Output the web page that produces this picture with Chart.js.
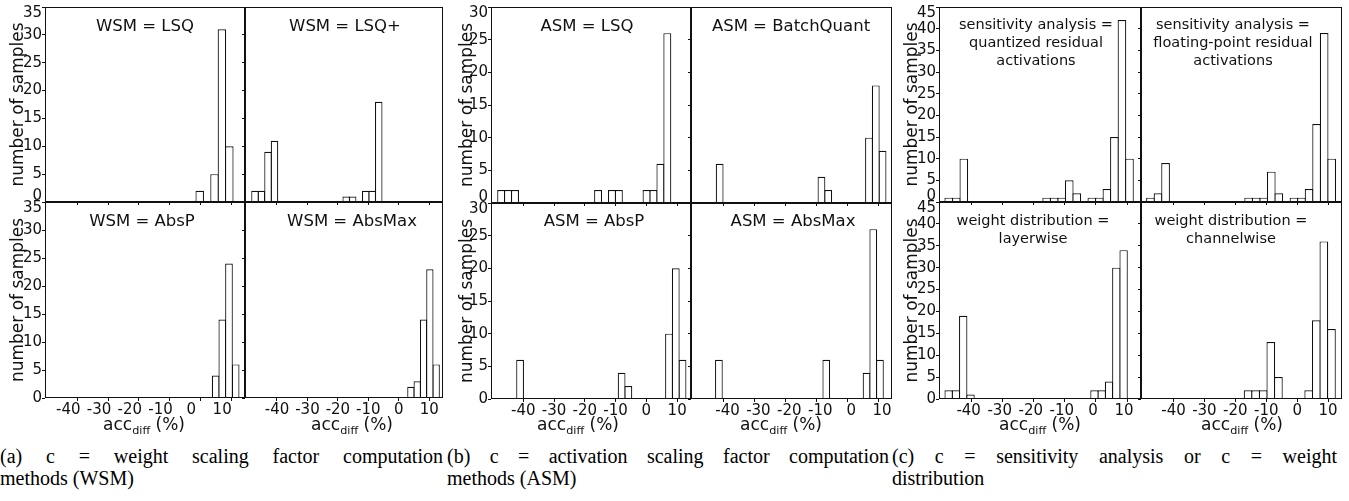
<!DOCTYPE html>
<html>
<head>
<meta charset="utf-8">
<script src="https://cdn.jsdelivr.net/npm/chart.js@4.4.1/dist/chart.umd.min.js"></script>
<style>
  body { margin: 0; background: #fff; width: 1349px; height: 501px; position: relative; overflow: hidden;
         font-family: "DejaVu Sans", Verdana, sans-serif; color: #111; }
  canvas { position: absolute; }
  .pt { position: absolute; transform: translateX(-50%); white-space: nowrap; text-align: center; }
  .pt.big { font-size: 16.5px; line-height: 20px; }
  .pt.small { font-size: 14.5px; line-height: 18px; }
  .xt { position: absolute; transform: translateX(-50%); white-space: nowrap; font-size: 17px; line-height: 20px; top: 414px; }
  .xt sub { font-size: 0.66em; vertical-align: -0.35em; line-height: 0; }
  .cap { position: absolute; top: 445px; font-family: "Liberation Serif", "Times New Roman", serif;
         font-size: 20px; line-height: 22px; color: #000; }
  .cap span { display: block; }
  .cap .l1 { text-align: justify; text-align-last: justify; }
</style>
</head>
<body>
<script>
// x axis of every panel: acc_diff (%)
const xRange = [-50.5, 14.5];
const xTicks = [-40, -30, -20, -10, 0, 10];

// histograms: [first bin edge, bin width] and counts per bin
// (a) weight scaling factor computation methods
const wsmLsqBins = [-1.42, 2.405];
const wsmLsqCounts = [2, 0, 5, 31, 10];
const wsmLsqPlusBins = [-48.3, 2.139];
const wsmLsqPlusCounts = [2, 2, 9, 11, 0, 0, 0, 0, 0, 0, 0, 0, 0, 0, 1, 1, 0, 2, 2, 18];
const wsmAbsPBins = [3.87, 2.17];
const wsmAbsPCounts = [4, 14, 24, 6];
const wsmAbsMaxBins = [2.91, 2.08];
const wsmAbsMaxCounts = [2, 3, 14, 23, 6];

// (b) activation scaling factor computation methods
const asmLsqBins = [-48.32, 2.25];
const asmLsqCounts = [2, 2, 2, 0, 0, 0, 0, 0, 0, 0, 0, 0, 0, 0, 2, 0, 2, 2, 0, 0, 0, 2, 2, 6, 26];
const asmBatchQuantBins = [-42.33, 2.195];
const asmBatchQuantCounts = [6, 0, 0, 0, 0, 0, 0, 0, 0, 0, 0, 0, 0, 0, 0, 4, 2, 0, 0, 0, 0, 0, 10, 18, 8];
const asmAbsPBins = [-42.15, 2.2];
const asmAbsPCounts = [6, 0, 0, 0, 0, 0, 0, 0, 0, 0, 0, 0, 0, 0, 0, 4, 2, 0, 0, 0, 0, 0, 10, 20, 6];
const asmAbsMaxBins = [-42.56, 2.17];
const asmAbsMaxCounts = [6, 0, 0, 0, 0, 0, 0, 0, 0, 0, 0, 0, 0, 0, 0, 0, 6, 0, 0, 0, 0, 0, 4, 26, 6];

// (c) sensitivity analysis / weight distribution
const saQuantBins = [-48.57, 2.423];
const saQuantCounts = [1, 1, 10, 0, 0, 0, 0, 0, 0, 0, 0, 0, 0, 1, 1, 1, 5, 2, 0, 1, 1, 3, 15, 42, 10];
const saFloatBins = [-48.66, 2.442];
const saFloatCounts = [1, 2, 9, 0, 0, 0, 0, 0, 0, 0, 0, 0, 0, 1, 1, 1, 7, 2, 0, 1, 1, 3, 18, 39, 10];
const wdLayerBins = [-48.57, 2.346];
const wdLayerCounts = [2, 2, 19, 1, 0, 0, 0, 0, 0, 0, 0, 0, 0, 0, 0, 0, 0, 0, 0, 0, 2, 2, 4, 30, 34];
const wdChannelBins = [-17.1, 2.451];
const wdChannelCounts = [2, 2, 2, 13, 5, 0, 0, 0, 2, 18, 36, 16];

const FONT = '"DejaVu Sans", Verdana, sans-serif';
const INK = "#111";

// y title padding per group
const groupTitlePad = { a: 8, b: 11, c: 8 };

const panels = [
  { grp: "a", col: "left", row: "top", box: [45, 7, 200, 195], ymax: 35, bins: wsmLsqBins, counts: wsmLsqCounts, title: ["WSM = LSQ"], tx: 145 },
  { grp: "a", col: "right", row: "top", box: [245, 7, 198, 195], ymax: 35, bins: wsmLsqPlusBins, counts: wsmLsqPlusCounts, title: ["WSM = LSQ+"], tx: 345 },
  { grp: "a", col: "left", row: "bottom", box: [45, 202, 200, 196], ymax: 35, bins: wsmAbsPBins, counts: wsmAbsPCounts, title: ["WSM = AbsP"], tx: 142, xt: 144, xOff: -9 },
  { grp: "a", col: "right", row: "bottom", box: [245, 202, 198, 196], ymax: 35, bins: wsmAbsMaxBins, counts: wsmAbsMaxCounts, title: ["WSM = AbsMax"], tx: 352, xt: 352 },

  { grp: "b", col: "left", row: "top", box: [491, 7, 200, 196], ymax: 30, bins: asmLsqBins, counts: asmLsqCounts, title: ["ASM = LSQ"], tx: 587 },
  { grp: "b", col: "right", row: "top", box: [691, 7, 201, 196], ymax: 30, bins: asmBatchQuantBins, counts: asmBatchQuantCounts, title: ["ASM = BatchQuant"], tx: 791 },
  { grp: "b", col: "left", row: "bottom", box: [491, 203, 200, 196], ymax: 30, bins: asmAbsPBins, counts: asmAbsPCounts, title: ["ASM = AbsP"], tx: 594, xt: 578 },
  { grp: "b", col: "right", row: "bottom", box: [691, 203, 201, 196], ymax: 30, bins: asmAbsMaxBins, counts: asmAbsMaxCounts, title: ["ASM = AbsMax"], tx: 793, xt: 781, xOff: 4 },

  { grp: "c", col: "left", row: "top", box: [939, 7, 202, 195], ymax: 45, bins: saQuantBins, counts: saQuantCounts, title: ["sensitivity analysis =", "quantized residual", "activations"], tx: 1036 },
  { grp: "c", col: "right", row: "top", box: [1141, 7, 201, 195], ymax: 45, bins: saFloatBins, counts: saFloatCounts, title: ["sensitivity analysis =", "floating-point residual", "activations"], tx: 1233 },
  { grp: "c", col: "left", row: "bottom", box: [939, 202, 202, 197], ymax: 45, bins: wdLayerBins, counts: wdLayerCounts, title: ["weight distribution =", "layerwise"], tx: 1033, xt: 1040, xOff: -3 },
  { grp: "c", col: "right", row: "bottom", box: [1141, 202, 201, 197], ymax: 45, bins: wdChannelBins, counts: wdChannelCounts, title: ["weight distribution =", "channelwise"], tx: 1231, xt: 1242 },
];

const frame = {
  id: "frame",
  afterDraw(chart) {
    const { ctx, chartArea: a } = chart;
    ctx.save();
    ctx.strokeStyle = INK;
    ctx.lineWidth = 1;
    ctx.strokeRect(a.left + 0.5, a.top + 0.5, a.right - a.left - 1, a.bottom - a.top - 1);
    ctx.restore();
  },
};

function makePanel(p) {
  const [x, y, w, h] = p.box;
  const padL = p.col === "left" ? 45 : 6;
  const padR = 4;
  const padT = p.row === "top" ? 7 : 4;
  const padB = p.row === "bottom" ? 22 : 6;

  const cv = document.createElement("canvas");
  cv.width = w + padL + padR;
  cv.height = h + padT + padB;
  cv.style.left = x - padL + "px";
  cv.style.top = y - padT + "px";
  document.body.appendChild(cv);

  const [start, width] = p.bins;
  const points = p.counts.map((c, i) => ({ x: start + (i + 0.5) * width, y: c }));

  new Chart(cv.getContext("2d"), {
    type: "bar",
    data: {
      datasets: [
        {
          data: points,
          backgroundColor: "#fff",
          borderColor: INK,
          borderWidth: 1.2,
          barPercentage: 1.15,
          categoryPercentage: 1,
        },
      ],
    },
    options: {
      responsive: false,
      animation: false,
      devicePixelRatio: 1,
      layout: { padding: { left: 0, top: padT, right: padR, bottom: 0 } },
      plugins: { legend: { display: false }, tooltip: { enabled: false } },
      scales: {
        x: {
          type: "linear",
          min: xRange[0],
          max: xRange[1],
          offset: false,
          afterBuildTicks: (s) => {
            s.ticks = xTicks.map((v) => ({ value: v }));
          },
          afterFit: (s) => {
            s.height = padB;
            s.paddingLeft = 0;
            s.paddingRight = 0;
          },
          border: { display: false },
          grid: { offset: false, drawOnChartArea: false, drawTicks: true, tickLength: 3, color: INK },
          ticks: {
            autoSkip: false,
            maxRotation: 0,
            minRotation: 0,
            padding: 0,
            labelOffset: p.xOff || 0,
            color: INK,
            font: { family: FONT, size: 15 },
            callback: (v) => (p.row === "bottom" ? String(v) : ""),
          },
        },
        y: {
          min: 0,
          max: p.ymax,
          afterFit: (s) => {
            s.width = padL;
            s.paddingTop = 0;
            s.paddingBottom = 0;
          },
          border: { display: false },
          grid: { drawOnChartArea: false, drawTicks: true, tickLength: 3, color: INK },
          title: {
            display: p.col === "left",
            text: "number of samples",
            color: INK,
            font: { family: FONT, size: 17 },
            padding: { top: groupTitlePad[p.grp], bottom: 0 },
          },
          ticks: {
            stepSize: 5,
            autoSkip: false,
            padding: 0,
            color: INK,
            font: { family: FONT, size: 15, lineHeight: 0.8 },
            callback: (v) => {
              if (p.col !== "left") return "";
              if (v === p.ymax) return ["", String(v)];
              if (v === 0 && p.row === "top") return [String(v), ""];
              return String(v);
            },
          },
        },
      },
    },
    plugins: [frame],
  });
}

panels.forEach(makePanel);

// in-plot titles and x axis titles
panels.forEach((p) => {
  const t = document.createElement("div");
  const multi = p.grp === "c";
  t.className = "pt " + (multi ? "small" : "big");
  t.style.left = p.tx + "px";
  t.style.top = (p.row === "top" ? (multi ? 15 : 16) : 211) + "px";
  t.innerHTML = p.title.join("<br>");
  document.body.appendChild(t);

  if (p.row === "bottom") {
    const xt = document.createElement("div");
    xt.className = "xt";
    xt.style.left = p.xt + "px";
    xt.innerHTML = "acc<sub>diff</sub> (%)";
    document.body.appendChild(xt);
  }
});
</script>

<div class="cap" style="left:0px; width:443px">
  <span class="l1">(a) c = weight scaling factor computation</span>
  <span>methods (WSM)</span>
</div>
<div class="cap" style="left:447px; width:442px">
  <span class="l1">(b) c = activation scaling factor computation</span>
  <span>methods (ASM)</span>
</div>
<div class="cap" style="left:892px; width:445px">
  <span class="l1">(c) c = sensitivity analysis or c = weight</span>
  <span>distribution</span>
</div>
</body>
</html>
